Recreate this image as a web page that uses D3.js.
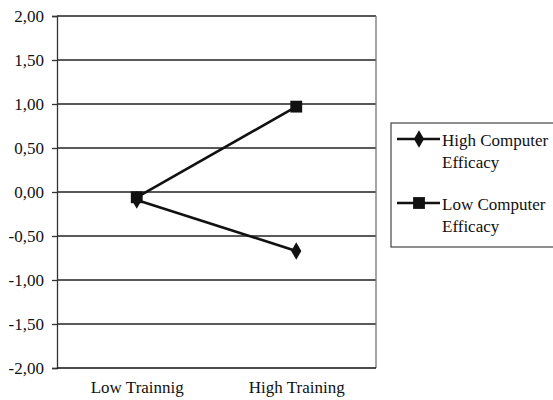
<!DOCTYPE html>
<html>
<head>
<meta charset="utf-8">
<script src="https://cdn.jsdelivr.net/npm/d3@7"></script>
<style>
  body { margin: 0; background: #fff; }
  text { font-family: "Liberation Serif", "Times New Roman", serif; fill: #111; }
</style>
</head>
<body>
<div id="chart"></div>
<script>
// chart data
var categories = ["Low Trainnig", "High Training"];
var highEfficacy = [-0.09, -0.67];
var lowEfficacy = [-0.06, 0.97];
var seriesNames = ["High Computer Efficacy", "Low Computer Efficacy"];
var yTicks = [-2, -1.5, -1, -0.5, 0, 0.5, 1, 1.5, 2];

function init() {
    var width = 553;
    var height = 400;
    var margin = { top: 16, left: 57, right: 177, bottom: 32 };

    var svg = d3.select("#chart")
        .append("svg")
        .attr("width", width)
        .attr("height", height);

    var x = d3.scalePoint()
        .domain(categories)
        .range([margin.left, width - margin.right])
        .padding(0.5);

    var y = d3.scaleLinear()
        .domain([-2, 2])
        .range([height - margin.bottom, margin.top]);

    var fmt = function(d) { return d3.format(".2f")(d).replace(".", ",").replace("−", "-"); };

    // gridlines
    svg.append("g")
        .selectAll("line")
        .data(yTicks.filter(d => d > -2))
        .enter()
        .append("line")
        .attr("x1", margin.left)
        .attr("x2", width - margin.right)
        .attr("y1", d => y(d))
        .attr("y2", d => y(d))
        .attr("stroke", "#222")
        .attr("stroke-width", 1.3);

    // right border of plot
    svg.append("line")
        .attr("x1", width - margin.right)
        .attr("x2", width - margin.right)
        .attr("y1", y(2))
        .attr("y2", y(-2))
        .attr("stroke", "#777")
        .attr("stroke-width", 1.3);

    // y axis
    var yAxis = d3.axisLeft(y)
        .tickValues(yTicks)
        .tickSize(5)
        .tickFormat(fmt);

    var gy = svg.append("g")
        .attr("transform", `translate(${margin.left},0)`)
        .call(yAxis);
    gy.select(".domain").attr("stroke", "#333").attr("stroke-width", 1.3);
    gy.selectAll(".tick line").attr("stroke", "#333").attr("stroke-width", 1.3);
    gy.selectAll("text")
        .attr("font-family", "'Liberation Serif', serif")
        .attr("font-size", 17)
        .attr("fill", "#111")
        .attr("x", -13);

    // x axis
    var xAxis = d3.axisBottom(x).tickSize(0).tickPadding(13);
    var gx = svg.append("g")
        .attr("transform", `translate(0,${y(-2)})`)
        .call(xAxis);
    gx.select(".domain")
        .attr("d", `M${margin.left},0H${width - margin.right}`)
        .attr("stroke", "#111")
        .attr("stroke-width", 1.5);
    gx.selectAll("text")
        .attr("font-family", "'Liberation Serif', serif")
        .attr("font-size", 17)
        .attr("fill", "#111");

    var line = d3.line()
        .x((d, i) => x(categories[i]))
        .y(d => y(d));

    var series = [highEfficacy, lowEfficacy];
    var symbols = [d3.symbolDiamond, d3.symbolSquare];
    var sizes = [90, 140];

    series.forEach(function(values, s) {
        svg.append("path")
            .datum(values)
            .attr("d", line)
            .attr("fill", "none")
            .attr("stroke", "#111")
            .attr("stroke-width", 2.6);

        svg.selectAll(".m" + s)
            .data(values)
            .enter()
            .append("path")
            .attr("class", "m" + s)
            .attr("d", d3.symbol().type(symbols[s]).size(sizes[s]))
            .attr("transform", (d, i) => `translate(${x(categories[i])},${y(d)})`)
            .attr("fill", "#111");
    });

    // legend
    var legend = svg.append("g")
        .attr("transform", "translate(391,123)");

    legend.append("rect")
        .attr("x", 0)
        .attr("y", 0)
        .attr("width", 170)
        .attr("height", 124)
        .attr("fill", "none")
        .attr("stroke", "#444")
        .attr("stroke-width", 1.2);

    var items = legend.selectAll(".item")
        .data(seriesNames)
        .enter()
        .append("g")
        .attr("transform", (d, i) => `translate(0,${16 + i * 64})`);

    items.append("line")
        .attr("x1", 6)
        .attr("x2", 49)
        .attr("y1", 0)
        .attr("y2", 0)
        .attr("stroke", "#111")
        .attr("stroke-width", 2.6);

    items.append("path")
        .attr("d", (d, i) => d3.symbol().type(symbols[i]).size(sizes[i])())
        .attr("transform", "translate(28,0)")
        .attr("fill", "#111");

    var labels = items.append("text")
        .attr("x", 51)
        .attr("y", 7)
        .style("font-size", "17px");

    labels.append("tspan")
        .attr("x", 51)
        .text(d => d.split(" ").slice(0, 2).join(" "));
    labels.append("tspan")
        .attr("x", 51)
        .attr("dy", 22)
        .text(d => d.split(" ").slice(2).join(" "));
}

window.onload = init;
</script>
</body>
</html>
